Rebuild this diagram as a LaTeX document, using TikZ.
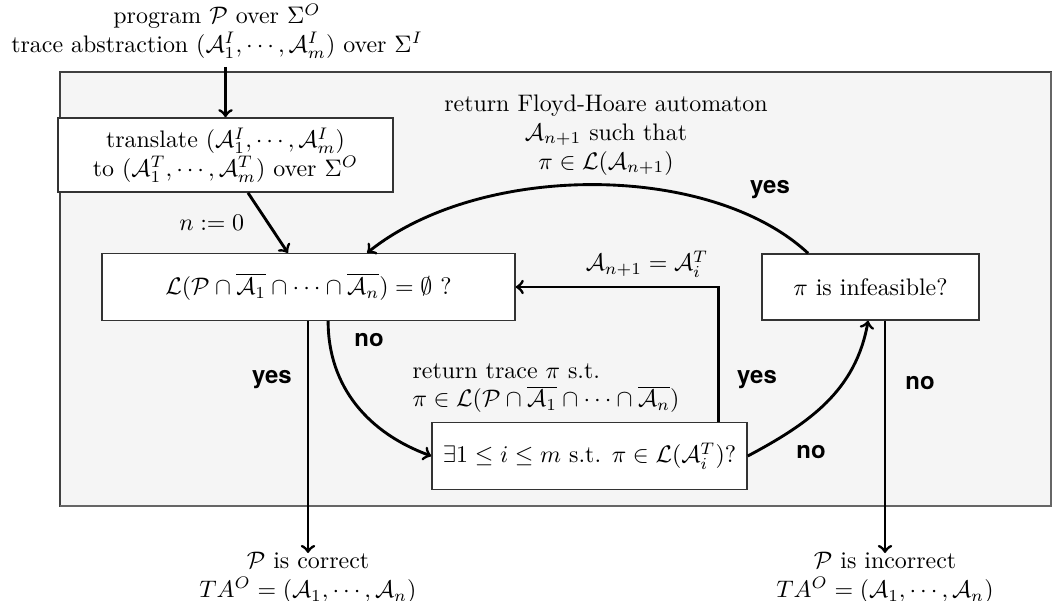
\documentclass[tikz,border=0pt]{standalone}
\usepackage{fontspec}
\newfontfamily\labelfont{TeX Gyre Heros}
\tikzset{
  stepbox/.style={draw=black!80, line width=0.6pt, fill=white, align=center, inner sep=2pt},
  flow/.style={->, line width=1.2pt},
  answer/.style={font=\labelfont\bfseries},
}
\begin{document}
\begin{tikzpicture}[x=0.0147cm, y=-0.0147cm]
    \useasboundingbox (0,0) rectangle (1056,601);
    % 背景区域
    \draw[draw=black!75, line width=0.8pt, fill=black!4] (60,72) rectangle (1051,506);
    \draw[black!60, line width=1.2pt] (1051,72) -- (1051,506) -- (60,506);

    % 输入
    \node[align=center] (intro) at (217,31)
        {program $\mathcal{P}$ over $\Sigma^O$\\
         trace abstraction $(\mathcal{A}^I_1,\cdots,\mathcal{A}^I_m)$ over $\Sigma^I$};

    % 各个步骤
    \node[stepbox, minimum width=4.92cm, minimum height=1.09cm] (trans) at (225.5,155)
        {translate $(\mathcal{A}^I_1,\cdots,\mathcal{A}^I_m)$\\
         to $(\mathcal{A}^T_1,\cdots,\mathcal{A}^T_m)$ over $\Sigma^O$};
    \node[stepbox, minimum width=6.07cm, minimum height=0.98cm] (empt) at (308.5,287)
        {$\mathcal{L}(\mathcal{P}\cap\overline{\mathcal{A}_1}\cap\cdots\cap\overline{\mathcal{A}_n})=\emptyset$ ?};
    \node[stepbox, minimum width=3.19cm, minimum height=0.97cm] (inf) at (870.5,287)
        {$\pi$ is infeasible?};
    \node[stepbox, minimum width=4.63cm, minimum height=0.98cm] (ex) at (589.5,456)
        {$\exists 1\leq i\leq m$ s.t. $\pi\in\mathcal{L}(\mathcal{A}^T_i)$?};

    % 输出
    \coordinate (okend) at (308,553);
    \coordinate (badend) at (885,553);
    \node[align=center] (ok) at (308,578)
        {$\mathcal{P}$ is correct\\ $TA^O=(\mathcal{A}_1,\cdots,\mathcal{A}_n)$};
    \node[align=center] (bad) at (885,578)
        {$\mathcal{P}$ is incorrect\\ $TA^O=(\mathcal{A}_1,\cdots,\mathcal{A}_n)$};

    % 连线
    \draw[flow] (intro.south -| trans.north) -- (trans.north);
    \draw[flow] ([xshift=9.4pt]trans.south) -- ([xshift=-8.6pt]empt.north)
        node[pos=0.5, left=6pt] (init) {$n:=0$};
    \draw[flow] ([xshift=-26.1pt]inf.north) .. controls (710,162) and (480,162) .. ([xshift=24.5pt]empt.north);
    \draw[flow] ([xshift=53.8pt]ex.north) |- (empt.east);
    \draw[flow] ([xshift=8.2pt]empt.south) to[out=-90, in=160] (ex.west);
    \draw[flow] (ex.east) to[out=28, in=-100] ([xshift=-1pt]inf.south);
    \draw[flow] (okend |- empt.south) -- (okend);
    \draw[flow] (badend |- inf.south) -- (badend);

    % 标注
    \node[align=center] (fh) at (606,135)
        {return Floyd-Hoare automaton\\ $\mathcal{A}_{n+1}$ such that\\ $\pi\in\mathcal{L}(\mathcal{A}_{n+1})$};
    \node[align=left] (tr) at (546,388)
        {return trace $\pi$ s.t.\\
         $\pi\in\mathcal{L}(\mathcal{P}\cap\overline{\mathcal{A}_1}\cap\cdots\cap\overline{\mathcal{A}_n})$};
    \node (refine) at (647,264) {$\mathcal{A}_{n+1}=\mathcal{A}^T_i$};
    \node[answer] (y1) at (770,190) {yes};
    \node[answer] (n1) at (369,340) {no};
    \node[answer] (y2) at (272,380) {yes};
    \node[answer] (y3) at (757,380) {yes};
    \node[answer] (n2) at (920,383) {no};
    \node[answer] (n3) at (811,452) {no};
\end{tikzpicture}
\end{document}
